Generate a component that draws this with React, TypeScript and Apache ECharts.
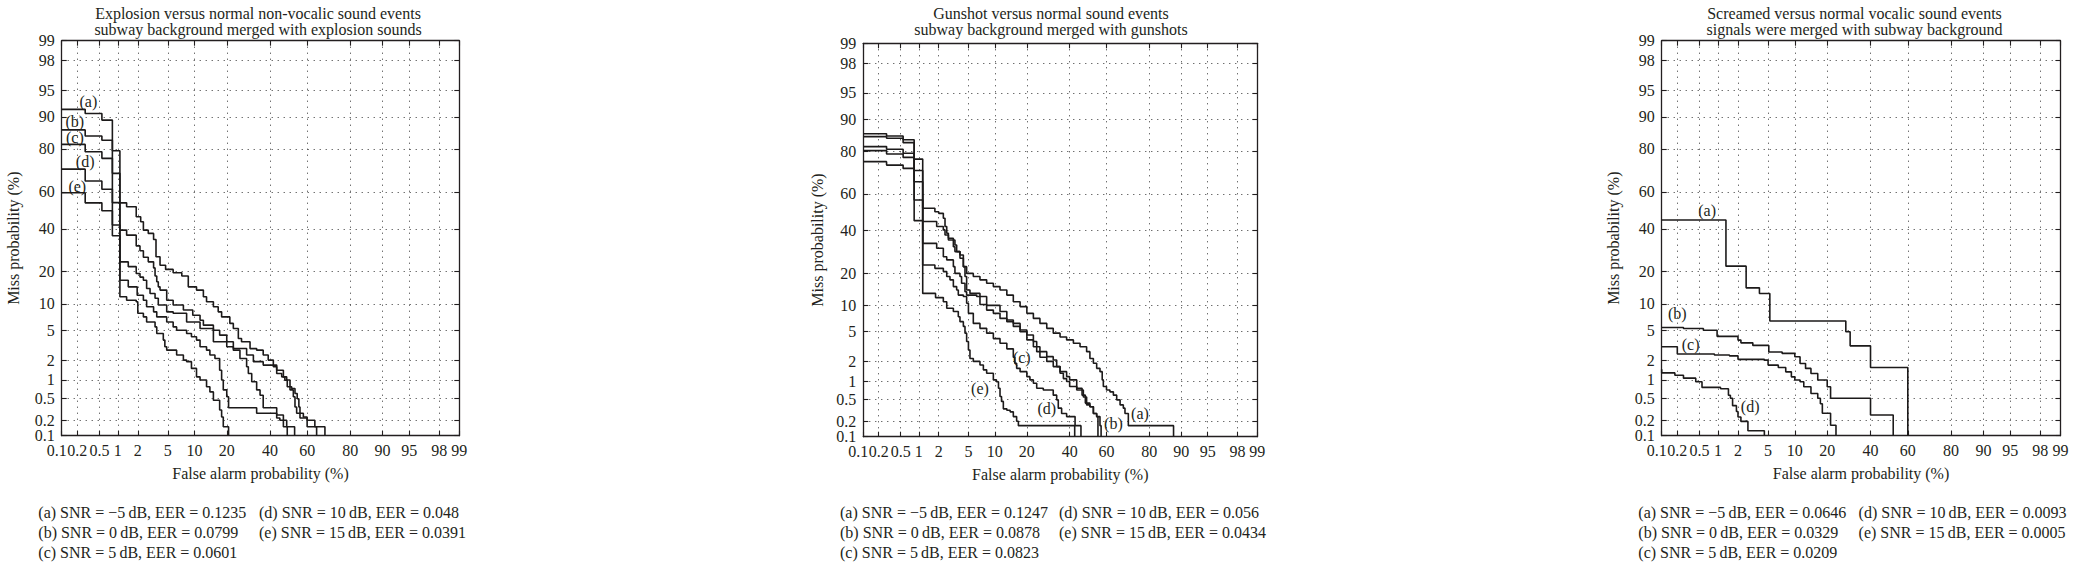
import React, { useEffect, useRef } from "react";
import * as echarts from "echarts";

// ---------- tick labels (percent) ----------
const tickPercents = [0.1, 0.2, 0.5, 1, 2, 5, 10, 20, 40, 60, 80, 90, 95, 98, 99];
const tickLabels = ["0.1", "0.2", "0.5", "1", "2", "5", "10", "20", "40", "60", "80", "90", "95", "98", "99"];

const curveLetters = ["a", "b", "c", "d", "e"];
const snrValues = ["\u22125", "0", "5", "10", "15"];

// ---------- panel 1: explosion (false alarm %, miss %) ----------
const explosionTitle = ["Explosion versus normal non-vocalic sound events", "subway background merged with explosion sounds"];
const explosionEER = ["0.1235", "0.0799", "0.0601", "0.048", "0.0391"];
const explosionA = [[0.1, 91.7], [0.28, 90.8], [0.55, 89.2], [0.82, 79.3], [1.08, 54.1], [1.37, 52], [1.9, 46.5], [2.2, 43.8], [2.4, 39.3], [2.8, 37.6], [3.3, 34.5], [3.55, 26.2], [4.0, 22.6], [4.7, 20.9], [5.8, 19.6], [7.3, 18.4], [8.6, 14.7], [10.5, 13.7], [12.3, 11.8], [13.2, 10.5], [15.3, 9.3], [16.9, 8.2], [18.1, 7.2], [21.2, 6.05], [22.6, 5.26], [24.7, 3.95], [26.1, 3.58], [30, 2.9], [33.2, 2.76], [36.5, 2.36], [39.1, 2.0], [41.8, 1.6], [43.6, 1.26], [46.3, 1.12], [48, 0.99], [49.3, 0.78], [51.7, 0.73], [53.5, 0.6], [54.7, 0.49], [55.6, 0.35], [56.2, 0.27], [58, 0.23], [60, 0.2], [64, 0.15], [69, 0.1]];
const explosionB = [[0.1, 86.5], [0.28, 84.6], [0.55, 83.2], [0.82, 69.4], [1.08, 39.3], [1.37, 36.7], [1.9, 31.3], [2.15, 29], [2.4, 26], [2.8, 24], [3.3, 21.5], [3.45, 18.4], [3.63, 16.4], [3.8, 14.7], [4.0, 13.7], [4.85, 10.9], [5.8, 9.7], [7.6, 8.6], [9.6, 7.5], [11.4, 6.6], [12.3, 5.77], [15.3, 5.0], [17.4, 4.35], [20, 3.58], [22.6, 2.91], [28.4, 2.36], [31.6, 1.9], [36.5, 1.69], [43.6, 1.42], [47.2, 1.12], [49, 1.0], [50.8, 0.69], [52.6, 0.53], [53.5, 0.35], [54.4, 0.27], [56.2, 0.22], [60, 0.15], [64.9, 0.1]];
const explosionC = [[0.1, 81.7], [0.28, 78.9], [0.55, 76.2], [0.82, 54.2], [1.08, 24], [1.45, 22], [1.9, 19.3], [2.15, 18], [2.4, 16.9], [2.66, 14.2], [2.96, 12.7], [3.45, 11.4], [3.8, 9.7], [4.85, 8.2], [5.8, 7.9], [8.25, 6.3], [11.4, 5.26], [15.3, 3.58], [20, 3.07], [22.6, 2.76], [25.4, 2.11], [28.4, 1.6], [29.2, 1.26], [30.8, 0.94], [33.2, 0.69], [34.9, 0.56], [36.5, 0.34], [43.6, 0.25], [47.2, 0.2], [49, 0.15], [53.3, 0.1]];
const explosionD = [[0.1, 71.4], [0.28, 65.6], [0.55, 61.4], [0.82, 42], [1.08, 16.9], [1.45, 14.7], [1.96, 12.2], [2.4, 10.9], [2.66, 9.3], [3.3, 8.2], [3.63, 7.2], [4.85, 6.3], [5.8, 5.5], [6.37, 5.0], [8.25, 4.57], [9.3, 4.15], [10.5, 3.76], [11.4, 3.07], [13.2, 2.76], [14.2, 2.36], [15.8, 2.11], [17.4, 1.42], [18.1, 1.0], [18.7, 0.69], [20, 0.53], [20.7, 0.34], [33.2, 0.27], [43.6, 0.22], [45.3, 0.2], [47.2, 0.15], [49.3, 0.1]];
const explosionE = [[0.1, 59.5], [0.28, 54.1], [0.55, 49.8], [0.82, 36.4], [1.08, 11.8], [1.37, 10.9], [1.9, 10.5], [2.0, 7.9], [2.4, 7.2], [2.66, 6.3], [3.45, 5.5], [3.63, 4.57], [4.4, 3.76], [4.6, 3.07], [4.85, 2.76], [6.37, 2.36], [7.6, 2.0], [8.25, 1.9], [9.3, 1.51], [10.5, 1.12], [11.4, 1.0], [13.2, 0.78], [14.2, 0.64], [15.3, 0.46], [17.4, 0.31], [18.1, 0.23], [18.7, 0.15], [20.7, 0.1]];

// ---------- panel 2: gunshot ----------
const gunshotTitle = ["Gunshot versus normal sound events", "subway background merged with gunshots"];
const gunshotEER = ["0.1247", "0.0878", "0.0823", "0.056", "0.0434"];
const gunshotA = [[0.1, 86.0], [0.28, 85.3], [0.55, 84.1], [0.84, 76.8], [1.15, 52.2], [1.76, 50.3], [2.0, 49.4], [2.33, 46.7], [2.46, 42.2], [2.6, 38.6], [2.74, 36], [3.2, 35.1], [3.36, 32.6], [3.54, 29.4], [3.91, 27.8], [4.32, 22.7], [4.75, 20], [5.73, 18.8], [6.86, 17.6], [8.16, 16.4], [9.64, 15.3], [11.3, 14.2], [13.2, 12.7], [15.2, 10.9], [17.5, 9.7], [20, 8.2], [22.6, 7.2], [25.4, 6.3], [28.5, 5.5], [31.6, 4.8], [35, 4.3], [38.4, 3.94], [42, 3.56], [45.6, 3.2], [49.2, 2.75], [51, 2.2], [52.9, 1.88], [54.7, 1.58], [56.5, 1.41], [57.7, 1.05], [58.3, 0.82], [60, 0.72], [61.8, 0.67], [63.6, 0.59], [65.3, 0.49], [67, 0.4], [68.6, 0.35], [69.4, 0.28], [71, 0.165], [88, 0.1]];
const gunshotB = [[0.1, 85.1], [0.28, 84.6], [0.55, 83.1], [0.84, 71.7], [1.15, 44.9], [1.87, 42.2], [2.33, 40.4], [2.46, 37.7], [2.74, 35.1], [3.2, 31.8], [3.36, 29.4], [3.91, 26.3], [4.32, 22.7], [4.53, 18.8], [4.75, 14.2], [5.22, 13.2], [6.86, 12.3], [8.16, 10], [11.3, 8.6], [13.2, 6.9], [15.2, 6.3], [17.5, 5.25], [20, 4.55], [22.6, 3.75], [24, 3.2], [25.4, 2.75], [28.5, 2.34], [31.6, 2.1], [33.3, 1.68], [35, 1.41], [38.4, 1.18], [40, 1.05], [43.8, 0.77], [46.7, 0.59], [48.5, 0.43], [51, 0.37], [52.9, 0.28], [54.7, 0.245], [56.5, 0.165], [57.1, 0.1]];
const gunshotC = [[0.1, 81.7], [0.28, 80.7], [0.55, 79.2], [0.84, 66.3], [1.15, 33.4], [1.87, 31], [2.33, 27], [2.6, 25.6], [3.2, 22.7], [3.36, 20], [3.91, 18.8], [4.1, 16.4], [4.53, 13.7], [4.75, 12.7], [6.28, 12.3], [6.86, 10.2], [8.16, 8.9], [9.64, 8.2], [11.3, 7.2], [13.2, 6.6], [15.2, 5.8], [17.5, 5.0], [20, 3.94], [22.6, 3.2], [24, 2.75], [25.4, 2.3], [28.5, 2.0], [31.6, 1.68], [35, 1.33], [36.7, 1.1], [38.4, 0.99], [40, 0.82], [43.8, 0.72], [47.4, 0.55], [49.2, 0.4], [51, 0.37], [52.9, 0.28], [54.7, 0.245], [55.4, 0.1]];
const gunshotD = [[0.1, 80.2], [0.28, 78.9], [0.55, 77.5], [0.84, 56.7], [1.15, 23.4], [1.76, 22], [2.33, 20.7], [2.6, 18.8], [2.88, 17.6], [3.2, 15.3], [3.54, 14.2], [3.72, 12.7], [4.32, 12.3], [4.75, 10.5], [5, 8.2], [5.73, 6.3], [6.86, 5.5], [8.16, 4.8], [9.64, 4.1], [11.3, 3.56], [13.2, 3.0], [15.2, 2.3], [15.7, 1.88], [16.3, 1.58], [17.5, 1.41], [20, 1.18], [21.2, 1.05], [22.6, 0.93], [24, 0.77], [26.9, 0.72], [31.6, 0.59], [33.3, 0.49], [34.1, 0.35], [35.8, 0.28], [38.4, 0.245], [42.9, 0.165], [46.1, 0.1]];
const gunshotE = [[0.1, 75.7], [0.28, 74.2], [0.55, 72.7], [0.84, 45.4], [1.15, 13.2], [1.8, 12.0], [2.33, 10.9], [2.6, 9.3], [3.2, 8.6], [3.72, 7.5], [3.91, 6.6], [4.32, 5.8], [4.53, 4.8], [4.75, 3.75], [5.0, 2.9], [5.22, 2.2], [5.73, 2.0], [6.86, 1.77], [7.5, 1.5], [8.16, 1.33], [9.64, 1.05], [10.4, 0.98], [10.9, 0.77], [11.3, 0.56], [11.7, 0.46], [12.2, 0.34], [13.2, 0.32], [14.2, 0.3], [15.2, 0.245], [16.3, 0.2], [16.9, 0.165], [42.7, 0.1]];

// ---------- panel 3: scream ----------
const screamTitle = ["Screamed versus normal vocalic sound events", "signals were merged with subway background"];
const screamEER = ["0.0646", "0.0329", "0.0209", "0.0093", "0.0005"];
const screamA = [[0.1, 44.7], [1.33, 22.2], [2.6, 14.4], [3.9, 12.7], [5.25, 6.45], [27.8, 4.8], [29.8, 3.16], [40, 1.56], [60, 0.1]];
const screamB = [[0.1, 5.4], [0.26, 5.26], [0.58, 5.0], [0.97, 4.2], [2, 3.76], [2.2, 3.46], [3.2, 3.2], [5.1, 2.6], [7.3, 2.49], [10, 2.23], [11.3, 1.79], [12.8, 1.51], [14.4, 1.26], [16.6, 1.0], [20, 0.78], [21.3, 0.5], [40, 0.25], [52.2, 0.1]];
const screamC = [[0.1, 3.07], [0.2, 2.44], [0.88, 2.36], [1.5, 2.3], [2, 2.05], [4.5, 2.0], [5, 1.69], [6.6, 1.56], [8, 1.34], [9.2, 1.12], [10, 1.0], [11.3, 0.94], [12.3, 0.78], [14.4, 0.6], [16.6, 0.5], [17.5, 0.4], [18.2, 0.27], [21.3, 0.16], [23.5, 0.1]];
const screamD = [[0.1, 1.47], [0.1, 1.29], [0.18, 1.19], [0.26, 1.07], [0.43, 0.94], [0.55, 0.76], [1.1, 0.72], [1.45, 0.56], [1.55, 0.5], [1.67, 0.37], [1.9, 0.29], [2.0, 0.23], [2.2, 0.19], [2.75, 0.125], [4.5, 0.1]];

// ---------- layout (not data) ----------
const FONT = '"Liberation Serif", "Times New Roman", serif';
const FS = 16;
const INK = "#231f20";
const legendRowsY = [512.3, 532.3, 552.7];

const layout = [
  { grid: { left: 61.7, top: 40.7, width: 397.6, height: 395 }, titleX: 258, legendX: [38.3, 259], yNameGap: 40,
    anchors: [[0.32, 93.2], [0.18, 88.8], [0.18, 84.1], [0.28, 74.7], [0.2, 62.7]] },
  { grid: { left: 863.3, top: 43.3, width: 394, height: 393.4 }, titleX: 1051, legendX: [840, 1059], yNameGap: 38,
    anchors: [[76.2, 0.28], [63.6, 0.18], [18.1, 2.3], [28.5, 0.35], [6.86, 0.77]] },
  { grid: { left: 1661.7, top: 40.7, width: 398.7, height: 395 }, titleX: 1854.5, legendX: [1638.3, 1858.6], yNameGap: 40,
    anchors: [[0.67, 50], [0.2, 7.9], [0.35, 3.3], [2.95, 0.36]] },
];

const panels = [
  { title: explosionTitle, eer: explosionEER, curves: [explosionA, explosionB, explosionC, explosionD, explosionE] },
  { title: gunshotTitle, eer: gunshotEER, curves: [gunshotA, gunshotB, gunshotC, gunshotD, gunshotE] },
  { title: screamTitle, eer: screamEER, curves: [screamA, screamB, screamC, screamD] },
];

// inverse standard normal CDF (Acklam)
function probit(p: number): number {
  const a = [-3.969683028665376e1, 2.209460984245205e2, -2.759285104469687e2, 1.38357751867269e2, -3.066479806614716e1, 2.506628277459239];
  const b = [-5.447609879822406e1, 1.615858368580409e2, -1.556989798598866e2, 6.680131188771972e1, -1.328068155288572e1];
  const c = [-7.784894002430293e-3, -3.223964580411365e-1, -2.400758277161838, -2.549671464308094, 4.374664141464968, 2.938163982698783];
  const d = [7.784695709041462e-3, 3.224671290700398e-1, 2.445134137142996, 3.754408661907416];
  const plow = 0.02425;
  if (p < plow) {
    const q = Math.sqrt(-2 * Math.log(p));
    return (((((c[0] * q + c[1]) * q + c[2]) * q + c[3]) * q + c[4]) * q + c[5]) / ((((d[0] * q + d[1]) * q + d[2]) * q + d[3]) * q + 1);
  }
  if (p <= 1 - plow) {
    const q = p - 0.5;
    const r = q * q;
    return ((((((a[0] * r + a[1]) * r + a[2]) * r + a[3]) * r + a[4]) * r + a[5]) * q) / (((((b[0] * r + b[1]) * r + b[2]) * r + b[3]) * r + b[4]) * r + 1);
  }
  const q = Math.sqrt(-2 * Math.log(1 - p));
  return -(((((c[0] * q + c[1]) * q + c[2]) * q + c[3]) * q + c[4]) * q + c[5]) / ((((d[0] * q + d[1]) * q + d[2]) * q + d[3]) * q + 1);
}

const toDev = (pct: number) => probit(pct / 100);
const AXMIN = toDev(tickPercents[0]);
const AXMAX = toDev(tickPercents[tickPercents.length - 1]);
const tickVals = tickPercents.map(toDev);

function tickIndex(v: number) {
  let best = 0;
  let bd = Infinity;
  tickVals.forEach((t, i) => {
    const dd = Math.abs(t - v);
    if (dd < bd) { bd = dd; best = i; }
  });
  return bd < 1e-4 ? best : -1;
}
const plainFormatter = (v: number) => { const i = tickIndex(v); return i < 0 ? "" : tickLabels[i]; };
// the first x label sits in a narrow box so that it does not collide with "0.2"
const xFormatter = (v: number) => {
  const i = tickIndex(v);
  if (i < 0) return "";
  return i === 0 ? `{first|${tickLabels[i]}}` : tickLabels[i];
};

// staircase: horizontal first, then vertical
function stairs(pts: number[][]) {
  const out: number[][] = [];
  pts.forEach((p, i) => {
    if (i > 0) out.push([toDev(p[0]), toDev(pts[i - 1][1])]);
    out.push([toDev(p[0]), toDev(p[1])]);
  });
  return out;
}

function buildOption() {
  const grid: any[] = [];
  const xAxis: any[] = [];
  const yAxis: any[] = [];
  const series: any[] = [];
  const graphic: any[] = [];
  const axisLine = { show: true, onZero: false, lineStyle: { color: INK, width: 1.3 } };
  const tick = { show: true, inside: true, length: 5, customValues: tickVals, lineStyle: { color: INK, width: 1.1 } };
  const labelBase = { color: INK, fontSize: FS, fontFamily: FONT, hideOverlap: false };
  const split = { show: true, lineStyle: { color: "#333", width: 1, type: [1, 5] } };
  const nameStyle = { color: INK, fontSize: FS, fontFamily: FONT };

  panels.forEach((panel, g) => {
    const L = layout[g];
    grid.push({ ...L.grid, outerBoundsMode: "none", containLabel: false });
    xAxis.push({
      gridIndex: g, type: "value", min: AXMIN, max: AXMAX, position: "bottom",
      axisLine, axisTick: tick,
      axisLabel: { ...labelBase, customValues: tickVals, showMinLabel: true, showMaxLabel: true, margin: 7, formatter: xFormatter,
        rich: { first: { width: 10, align: "right", color: INK, fontSize: FS, fontFamily: FONT } } },
      splitLine: split,
      name: "False alarm probability (%)", nameLocation: "middle", nameGap: 30, nameTextStyle: nameStyle,
    });
    xAxis.push({
      gridIndex: g, type: "value", min: AXMIN, max: AXMAX, position: "top",
      axisLine, axisTick: tick, axisLabel: { show: false }, splitLine: { show: false },
    });
    // left axis: labels 0.2 ... 99 (the 0.1 label is carried by the right axis, see below)
    yAxis.push({
      gridIndex: g, type: "value", min: AXMIN, max: AXMAX, position: "left",
      axisLine, axisTick: tick,
      axisLabel: { ...labelBase, customValues: tickVals.slice(1), showMinLabel: true, showMaxLabel: true, margin: 7, formatter: plainFormatter },
      splitLine: split,
      name: "Miss probability (%)", nameLocation: "middle", nameGap: L.yNameGap, nameTextStyle: nameStyle,
    });
    // right axis: frame + ticks; its single label (0.1) is pushed across to the left side
    yAxis.push({
      gridIndex: g, type: "value", min: AXMIN, max: AXMAX, position: "right",
      axisLine, axisTick: tick,
      axisLabel: { ...labelBase, customValues: [AXMIN], showMinLabel: true, formatter: plainFormatter,
        margin: -(L.grid.width + 7), align: "right" },
      splitLine: { show: false },
    });

    panel.curves.forEach((curve, i) => {
      series.push({
        type: "line", name: `${g}-${curveLetters[i]}`, xAxisIndex: 2 * g, yAxisIndex: 2 * g,
        data: stairs(curve), symbol: "none", showSymbol: false, clip: true, silent: true,
        lineStyle: { color: "#1c1a1a", width: 1.6 },
      });
    });

    series.push({
      type: "scatter", xAxisIndex: 2 * g, yAxisIndex: 2 * g, silent: true,
      symbol: "circle", symbolSize: 1, itemStyle: { color: "rgba(0,0,0,0)", opacity: 1 },
      data: L.anchors.map((p, i) => [toDev(p[0]), toDev(p[1]), `(${curveLetters[i]})`]),
      label: { show: true, position: "inside", formatter: (p: any) => p.value[2], color: INK, opacity: 1, fontSize: FS, fontFamily: FONT, textBorderWidth: 0 },
    });

    // titles
    panel.title.forEach((t, k) => {
      graphic.push({ type: "text", x: L.titleX, y: [13.5, 29.5][k], silent: true,
        style: { text: t, fill: INK, font: `${FS}px ${FONT}`, align: "center", verticalAlign: "middle" } });
    });
    // legend text
    panel.eer.forEach((e, i) => {
      const col = i < 3 ? 0 : 1;
      const row = i < 3 ? i : i - 3;
      graphic.push({ type: "text", x: L.legendX[col], y: legendRowsY[row], silent: true,
        style: { text: `(${curveLetters[i]}) SNR = ${snrValues[i]}\u2009dB, EER = ${e}`, fill: INK, font: `${FS}px ${FONT}`, align: "left", verticalAlign: "middle" } });
    });
  });

  return { animation: false, backgroundColor: "#ffffff", grid, xAxis, yAxis, series, graphic };
}

export default function App() {
  const ref = useRef<HTMLDivElement>(null);
  useEffect(() => {
    if (!ref.current) return;
    const chart = echarts.init(ref.current, null, { renderer: "svg" });
    chart.setOption(buildOption() as any);
    return () => chart.dispose();
  }, []);
  return <div ref={ref} style={{ position: "absolute", left: 0, top: 0, width: 2074, height: 566, background: "#fff" }} />;
}
